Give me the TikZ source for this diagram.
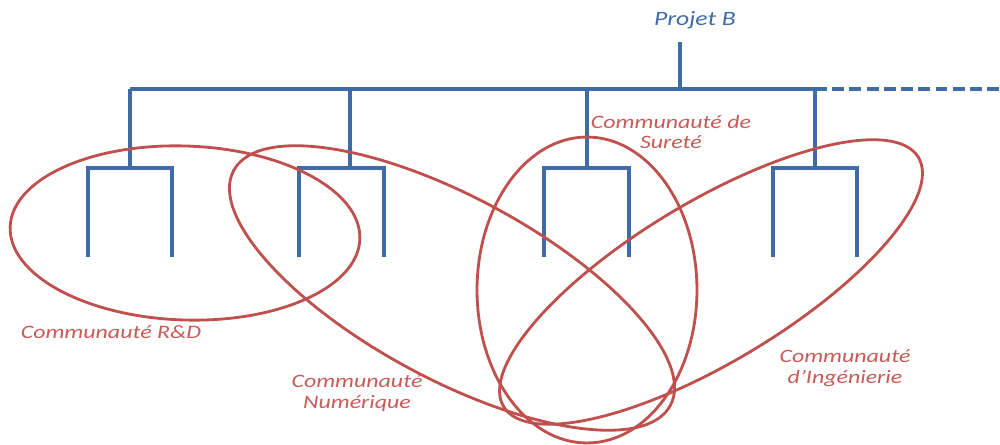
\documentclass[tikz,border=0pt]{standalone}
\usepackage{fontspec}
\setmainfont{Carlito}
\definecolor{treeblue}{HTML}{3F6CA6}
\definecolor{commred}{HTML}{C0504D}
\definecolor{lblred}{HTML}{C85A57}
\begin{document}
\begin{tikzpicture}[x=0.02cm,y=-0.02cm,
  tree/.style={draw=treeblue, line width=2.1pt},
  treedash/.style={draw=treeblue, line width=2.1pt, dash pattern=on 6.8pt off 3pt},
  comm/.style={draw=commred, line width=1.6pt},
  lbl/.style={text=lblred, font=\fontsize{10.8}{11.6}\selectfont\itshape, align=center, xscale=1.26, transform shape, inner sep=0pt},
  rootlbl/.style={text=treeblue, font=\fontsize{11.6}{13}\selectfont\itshape, xscale=1.26, transform shape, inner sep=0pt}]
\useasboundingbox (0,0) rectangle (1000,445);
% root
\node[rootlbl] (root) at (695,20) {Projet B};
\coordinate (top) at (680,42);
\coordinate (hub) at (680,89);
\coordinate (barL) at (130,89);
\coordinate (barR) at (815,89);
\coordinate (barEnd) at (1000,89);
\draw[tree] (top) -- (hub);
\draw[tree] (barL) -- (barR);
\draw[treedash] (barR) -- (barEnd);
% branches: drop x, left leg x, right leg x
\foreach \n/\d/\l/\r in {1/130/88/172, 2/350/299/384, 3/587/544/629, 4/815/773/857}{
  \coordinate (d\n) at (\d,89);
  \coordinate (j\n) at (\d,168);
  \coordinate (l\n) at (\l,168);
  \coordinate (r\n) at (\r,168);
  \coordinate (lb\n) at (\l,257);
  \coordinate (rb\n) at (\r,257);
  \draw[tree] (d\n) -- (j\n);
  \draw[tree, line join=miter] (lb\n) -- (l\n) -- (r\n) -- (rb\n);
}
% communities
\draw[comm, rotate around={-2:(185,233)}] (185,233) ellipse [x radius=3.5cm, y radius=1.74cm];
\draw[comm, rotate around={-28.3:(452,288)}] (452,288) ellipse [x radius=4.96cm, y radius=1.82cm];
\draw[comm] (587,290) ellipse [x radius=2.2cm, y radius=3.06cm];
\draw[comm, rotate around={31:(711,282)}] (711,282) ellipse [x radius=4.84cm, y radius=1.6cm];
% labels
\node[lbl] (rd) at (111,332) {Communauté R\&D};
\node[lbl] (num) at (357,393) {Communauté\\Numérique};
\node[lbl] (sur) at (671,132) {Communauté de\\Sureté};
\node[lbl] (ing) at (845,368) {Communauté\\d’Ingénierie};
\end{tikzpicture}
\end{document}
